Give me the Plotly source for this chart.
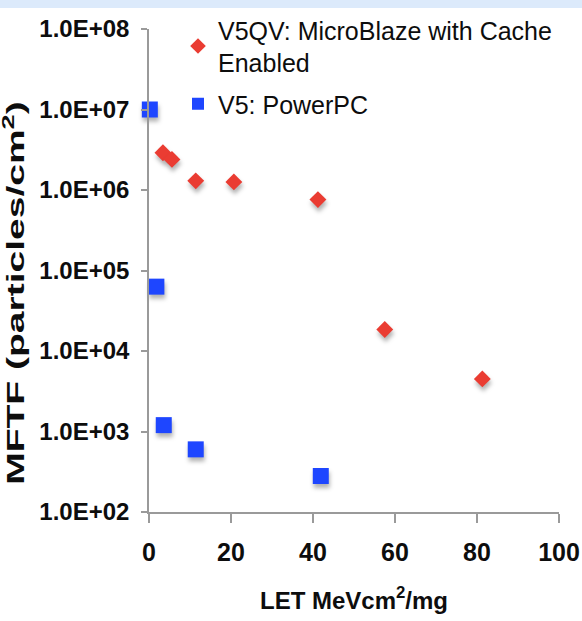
import plotly.graph_objects as go

# LET (MeV·cm²/mg) and mean fluence to failure (particles/cm²)
let_microblaze = [3.4, 5.6, 11.4, 20.7, 41.2, 57.5, 81.3]
mftf_microblaze = [2.9e6, 2.4e6, 1.3e6, 1.26e6, 7.6e5, 1.85e4, 4.5e3]

let_powerpc = [0.2, 1.8, 3.6, 11.4, 41.9]
mftf_powerpc = [1.0e7, 6.3e4, 1.2e3, 6.0e2, 2.8e2]

name_microblaze = "V5QV: MicroBlaze with Cache<br>Enabled"
name_powerpc = "V5: PowerPC"

y_tickvals = [1e2, 1e3, 1e4, 1e5, 1e6, 1e7, 1e8]
y_ticktext = ["1.0E+02", "1.0E+03", "1.0E+04", "1.0E+05", "1.0E+06", "1.0E+07", "1.0E+08"]
x_tickvals = [0, 20, 40, 60, 80, 100]

FONT = "Liberation Sans, Arial, Helvetica, sans-serif"
RED = "#EA3C32"
BLUE = "#1E46FF"
AXIS = "#9a9a9a"
INK = "#0d0d0d"

fig = go.Figure()
fig.add_trace(go.Scatter(
    x=let_microblaze, y=mftf_microblaze, name=name_microblaze, mode="markers",
    legendgroup="v5qv",
    marker=dict(symbol="diamond", size=13, color=RED),
    cliponaxis=False,
))
fig.add_trace(go.Scatter(
    x=let_powerpc, y=mftf_powerpc, name=name_powerpc, mode="markers",
    legendgroup="v5",
    marker=dict(symbol="square", size=16, color=BLUE),
    cliponaxis=False,
))

fig.update_layout(
    width=582, height=621,
    margin=dict(l=149, r=23, t=29, b=109, autoexpand=False),
    paper_bgcolor="white", plot_bgcolor="white",
    font=dict(family=FONT, color=INK),
    showlegend=True,
    legend=dict(
        xref="container", yref="container",
        x=178 / 582, y=1 - 7 / 621, xanchor="left", yanchor="top",
        font=dict(size=25, family=FONT, color=INK),
        bgcolor="rgba(0,0,0,0)", borderwidth=0,
        traceorder="grouped", tracegroupgap=6, itemsizing="constant",
    ),
    xaxis=dict(
        range=[0, 100], tickvals=x_tickvals, automargin=False,
        showgrid=False, zeroline=False,
        showline=True, linecolor=AXIS, linewidth=1.5,
        ticks="outside", ticklen=9, tickwidth=1.5, tickcolor=AXIS,
        tickfont=dict(size=25, family=FONT, color=INK, weight="bold"),
        ticklabelstandoff=8,
        title=dict(text="LET MeVcm<sup>2</sup>/mg", standoff=27,
                   font=dict(size=24, family=FONT, color=INK, weight="bold")),
    ),
    yaxis=dict(
        type="log", range=[2, 8], tickvals=y_tickvals, ticktext=y_ticktext,
        automargin=False,
        showgrid=False, zeroline=False,
        showline=True, linecolor=AXIS, linewidth=1.5,
        ticks="outside", ticklen=6, tickwidth=1.5, tickcolor=AXIS,
        tickfont=dict(size=24, family=FONT, color=INK, weight="bold"),
        ticklabelstandoff=7,
        title=dict(text="MFTF (particles/cm<sup>2</sup>)", standoff=8,
                   font=dict(size=39, family=FONT, color=INK, weight="bold")),
    ),
    shapes=[dict(
        type="rect", xref="paper", yref="paper",
        x0=-0.4, x1=1.1, y0=1.0435, y1=1.07,
        fillcolor="#DCEAFB", line=dict(width=0), layer="below",
    )],
)

# soft drop shadow under the plotted markers, and a horizontally narrowed
# y-axis title whose box ends at x=29 px and is centred at y=293 px
post_js = """
var gd = document.getElementById('{plot_id}');
function styleFigure() {
  gd.querySelectorAll('.scatterlayer .point').forEach(function (p) {
    p.style.filter = 'drop-shadow(1px 4px 2px rgba(0,0,0,0.3))';
  });
  var t = gd.querySelector('.ytitle');
  if (!t) return;
  var cur = t.getAttribute('transform') || '';
  if (t.__orig === undefined || cur.indexOf('scale(') < 0) { t.__orig = cur; }
  var s = 0.6;
  t.setAttribute('transform', 'scale(' + s + ',1) ' + t.__orig);
  var svgR = t.ownerSVGElement.getBoundingClientRect();
  var r = t.getBoundingClientRect();
  var dx = 29 - (r.right - svgR.left);
  var dy = 293 - (r.top - svgR.top + r.height / 2);
  t.setAttribute('transform', 'translate(' + dx + ',' + dy + ') scale(' + s + ',1) ' + t.__orig);
}
styleFigure();
if (gd.on) { gd.on('plotly_afterplot', styleFigure); }
setTimeout(styleFigure, 200);
setTimeout(styleFigure, 800);
"""

fig.write_html("out.html", post_script=post_js)
